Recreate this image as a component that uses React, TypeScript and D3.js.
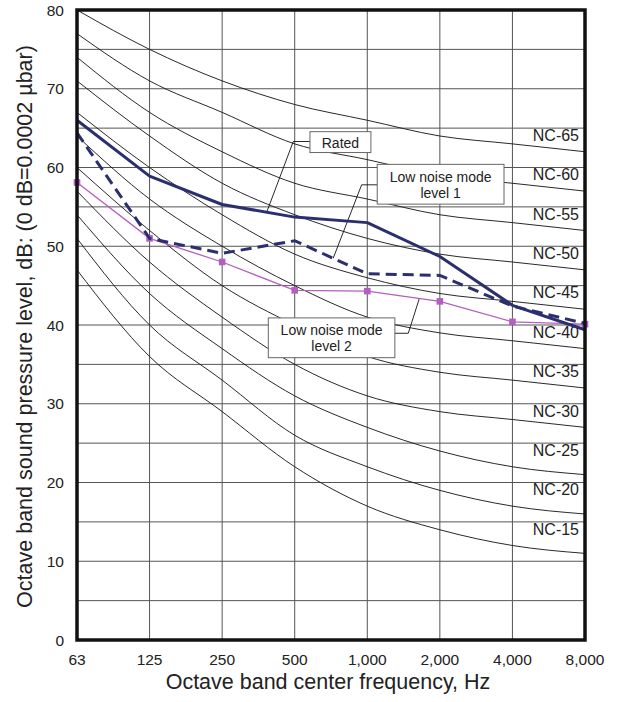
import React from "react";
import * as d3 from "d3";

const BANDS = ["63", "125", "250", "500", "1,000", "2,000", "4,000", "8,000"];
const Y_TICKS = [0, 10, 20, 30, 40, 50, 60, 70, 80];
const Y_GRID = [5, 10, 15, 20, 25, 30, 35, 40, 45, 50, 55, 60, 65, 70, 75];

const NC_LEVELS = [15, 20, 25, 30, 35, 40, 45, 50, 55, 60, 65];
const NC15 = [47, 36, 29, 22, 17, 14, 12, 11];
const NC20 = [51, 40, 33, 26, 22, 19, 17, 16];
const NC25 = [54, 44, 37, 31, 27, 24, 22, 21];
const NC30 = [57, 48, 41, 35, 31, 29, 28, 27];
const NC35 = [60, 52, 45, 40, 36, 34, 33, 32];
const NC40 = [64, 56, 50, 45, 41, 39, 38, 37];
const NC45 = [67, 60, 54, 49, 46, 44, 43, 42];
const NC50 = [71, 64, 58, 54, 51, 49, 48, 47];
const NC55 = [74, 67, 62, 58, 56, 54, 53, 52];
const NC60 = [77, 71, 67, 63, 61, 59, 58, 57];
const NC65 = [80, 75, 71, 68, 66, 64, 63, 62];
const NC_CURVES = [NC15, NC20, NC25, NC30, NC35, NC40, NC45, NC50, NC55, NC60, NC65];

const RATED = [66, 58.9, 55.3, 53.7, 53.0, 48.7, 42.5, 39.4];
const LOW1 = [64.4, 51.0, 49.1, 50.7, 46.5, 46.3, 42.4, 40.2];
const LOW2 = [58.1, 51.0, 48.0, 44.4, 44.3, 43.0, 40.4, 40.1];

const FONT = "'Liberation Sans', Arial, Helvetica, sans-serif";
const NAVY = "#2b2f6e";
const PURPLE = "#b45fc0";

export default function App() {
  const W = 619;
  const H = 702;
  const left = 77, right = 585, top = 10, bottom = 640;

  const x = d3.scalePoint<string>().domain(BANDS).range([left, right]).padding(0);
  const xi = d3.scaleLinear().domain([0, BANDS.length - 1]).range([left, right]);
  const y = d3.scaleLinear().domain([0, 80]).range([bottom, top]);

  const ncLine = d3
    .line<number>()
    .x((_, i) => xi(i))
    .y((d) => y(d))
    .curve(d3.curveMonotoneX);
  const linLine = d3
    .line<number>()
    .x((_, i) => xi(i))
    .y((d) => y(d));

  const valAt = (s: number[], t: number) => {
    const i0 = Math.floor(t);
    const i1 = Math.min(s.length - 1, i0 + 1);
    const f = t - i0;
    return s[i0] * (1 - f) + s[i1] * f;
  };

  // annotation boxes in data units: x as fractional band index, y in dB
  const annotations = [
    { lines: ["Rated"], x0: 3.21, x1: 4.05, yTop: 64.55, yBot: 61.9, side: "left", leadY: 63.3, elbowX: 2.98, series: RATED, t: 2.614 },
    { lines: ["Low noise mode", "level 1"], x0: 4.137, x1: 5.884, yTop: 60.4, yBot: 55.35, side: "left", leadY: 57.8, elbowX: 3.922, series: LOW1, t: 3.53 },
    { lines: ["Low noise mode", "level 2"], x0: 2.636, x1: 4.38, yTop: 40.9, yBot: 35.85, side: "right", leadY: 38.95, elbowX: 4.565, series: LOW2, t: 4.717 },
  ];

  return (
    <svg
      width={W}
      height={H}
      style={{ position: "absolute", left: 0, top: 0, background: "#fff" }}
      fontFamily={FONT}
    >
      <defs>
        <clipPath id="plotClip">
          <rect x={left} y={top} width={right - left} height={bottom - top} />
        </clipPath>
      </defs>
      <rect x={0} y={0} width={W} height={H} fill="#fff" />

      {/* grid */}
      <g stroke="#555" strokeWidth={1}>
        {Y_GRID.map((v) => (
          <line key={"h" + v} x1={left} x2={right} y1={y(v)} y2={y(v)} />
        ))}
        {BANDS.slice(1, -1).map((b) => (
          <line key={"v" + b} x1={x(b)} x2={x(b)} y1={top} y2={bottom} />
        ))}
      </g>

      {/* NC curves */}
      <g clipPath="url(#plotClip)" fill="none" stroke="#111" strokeWidth={0.9}>
        {NC_CURVES.map((c, k) => (
          <path key={"nc" + k} d={ncLine(c) || ""} />
        ))}
      </g>

      {/* NC labels */}
      <g fontSize={16} fill="#222" textAnchor="end">
        {NC_LEVELS.map((lv) => (
          <text key={"lbl" + lv} x={right - 6} y={y(lv - 1.5) + 1}>
            {"NC-" + lv}
          </text>
        ))}
      </g>

      {/* annotation leaders and boxes */}
      {annotations.map((a, k) => {
        const bx0 = xi(a.x0), bx1 = xi(a.x1), by0 = y(a.yTop), by1 = y(a.yBot);
        const ly = y(a.leadY);
        const ex = xi(a.elbowX);
        const tx = xi(a.t), ty = y(valAt(a.series, a.t));
        const sx = a.side === "left" ? bx0 : bx1;
        const cx = (bx0 + bx1) / 2;
        const cy = (by0 + by1) / 2;
        const lh = 16;
        return (
          <g key={"ann" + k}>
            <polyline points={`${sx},${ly} ${ex},${ly} ${tx},${ty}`} fill="none" stroke="#111" strokeWidth={0.9} />
            <rect x={bx0} y={by0} width={bx1 - bx0} height={by1 - by0} fill="#fff" stroke="#666" strokeWidth={1} />
            {a.lines.map((ln, j) => (
              <text
                key={j}
                x={cx}
                y={cy + (j - (a.lines.length - 1) / 2) * lh + 5.5}
                textAnchor="middle"
                fontSize={14}
                fill="#222"
              >
                {ln}
              </text>
            ))}
          </g>
        );
      })}

      {/* data series */}
      <path d={linLine(LOW2) || ""} fill="none" stroke={PURPLE} strokeWidth={1.3} />
      {LOW2.map((v, i) => (
        <rect key={"m" + i} x={xi(i) - 3.3} y={y(v) - 3.3} width={6.6} height={6.6} fill={PURPLE} />
      ))}
      <path d={linLine(LOW1) || ""} fill="none" stroke={NAVY} strokeWidth={3} strokeDasharray="11,6" />
      <path d={linLine(RATED) || ""} fill="none" stroke={NAVY} strokeWidth={3} strokeLinejoin="round" />

      {/* frame */}
      <rect x={left} y={top} width={right - left} height={bottom - top} fill="none" stroke="#111" strokeWidth={3.5} />

      {/* y ticks */}
      <g fontSize={15.5} fill="#222" textAnchor="end">
        {Y_TICKS.map((t) => (
          <text key={"yt" + t} x={64} y={y(t) + 5.5}>
            {t}
          </text>
        ))}
      </g>
      {/* x ticks */}
      <g fontSize={15.5} fill="#222" textAnchor="middle">
        {BANDS.map((b) => (
          <text key={"xt" + b} x={x(b)} y={665}>
            {b}
          </text>
        ))}
      </g>

      {/* titles */}
      <text x={328} y={689} fontSize={21.5} textAnchor="middle" fill="#222">
        Octave band center frequency, Hz
      </text>
      <text
        transform={`translate(32,326.5) rotate(-90)`}
        fontSize={21.5}
        textAnchor="middle"
        fill="#222"
      >
        Octave band sound pressure level, dB: (0 dB=0.0002 µbar)
      </text>
    </svg>
  );
}
